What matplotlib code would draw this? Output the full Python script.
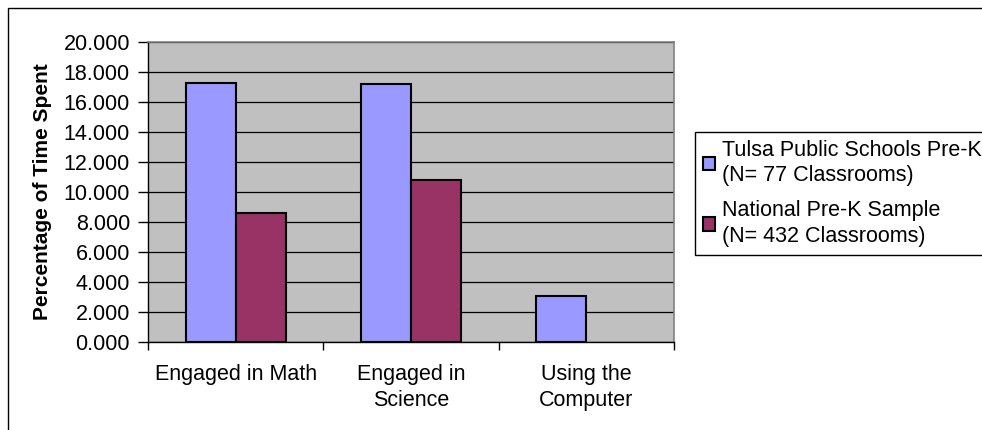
import matplotlib.pyplot as plt
from matplotlib.patches import Rectangle
import numpy as np

plt.rcParams['font.family'] = ['Liberation Sans', 'DejaVu Sans']

# Data
categories = ['Engaged in Math', 'Engaged in\nScience', 'Using the\nComputer']
tulsa = [17.3, 17.2, 3.1]
national = [8.6, 10.8, np.nan]  # no value for computer use
series_labels = ['Tulsa Public Schools Pre-K\n(N= 77 Classrooms)',
                 'National Pre-K Sample\n(N= 432 Classrooms)']

W, H = 982, 430
fig = plt.figure(figsize=(W / 100, H / 100), dpi=100)

# outer chart border (right/bottom cut off in the original)
fig.patches.append(Rectangle((8 / W, -0.1), 1.2, 1 - 8 / H + 0.1, transform=fig.transFigure,
                             fill=False, edgecolor='black', linewidth=1.0))

ax = fig.add_axes([148 / W, 88 / H, 526 / W, 300 / H])
ax.set_facecolor('#C0C0C0')

x = np.arange(len(categories))
bw = 0.286
ax.bar(x - bw / 2, tulsa, bw, color='#9999FF', edgecolor='black', linewidth=1.5,
       label=series_labels[0], zorder=3)
ax.bar(x + bw / 2, national, bw, color='#993366', edgecolor='black', linewidth=1.5,
       label=series_labels[1], zorder=3)

ax.set_ylim(0, 20)
ax.set_xlim(-0.5, 2.5)
ax.set_yticks(np.arange(0, 21, 2))
ax.set_yticklabels(['%.3f' % v for v in np.arange(0, 21, 2)], fontsize=15.5)
ax.yaxis.grid(True, color='black', linewidth=0.9, zorder=1)
ax.set_axisbelow(True)

ax.set_xticks([-0.5, 0.5, 1.5, 2.5])
ax.set_xticklabels([])
ax.set_xticks(x, minor=True)
ax.set_xticklabels(categories, minor=True, fontsize=15.5, linespacing=1.3)
ax.tick_params(axis='x', which='minor', length=0, pad=16)
ax.tick_params(axis='x', which='major', direction='out', length=6, width=1)
ax.tick_params(axis='y', direction='out', length=7, width=1, pad=6)

for s in ['top', 'right']:
    ax.spines[s].set_color('#808080')
    ax.spines[s].set_linewidth(1.2)
for s in ['left', 'bottom']:
    ax.spines[s].set_color('black')
    ax.spines[s].set_linewidth(1.0)

ax.set_ylabel('Percentage of Time Spent', fontsize=15, fontweight='bold')
ax.yaxis.set_label_coords((52 - 148) / 526, 0.5)

leg = fig.legend(loc='upper left', bbox_to_anchor=(695 / W, 1 - 132 / H), fontsize=15.5,
                 frameon=True, fancybox=False, edgecolor='black', framealpha=1,
                 handlelength=0.6, handleheight=0.6, handletextpad=0.3,
                 labelspacing=0.65, borderpad=0.35, borderaxespad=0)
leg.get_frame().set_linewidth(1.0)
for t in leg.get_texts():
    t.set_linespacing(1.3)

fig.savefig('out.png', dpi=100)
